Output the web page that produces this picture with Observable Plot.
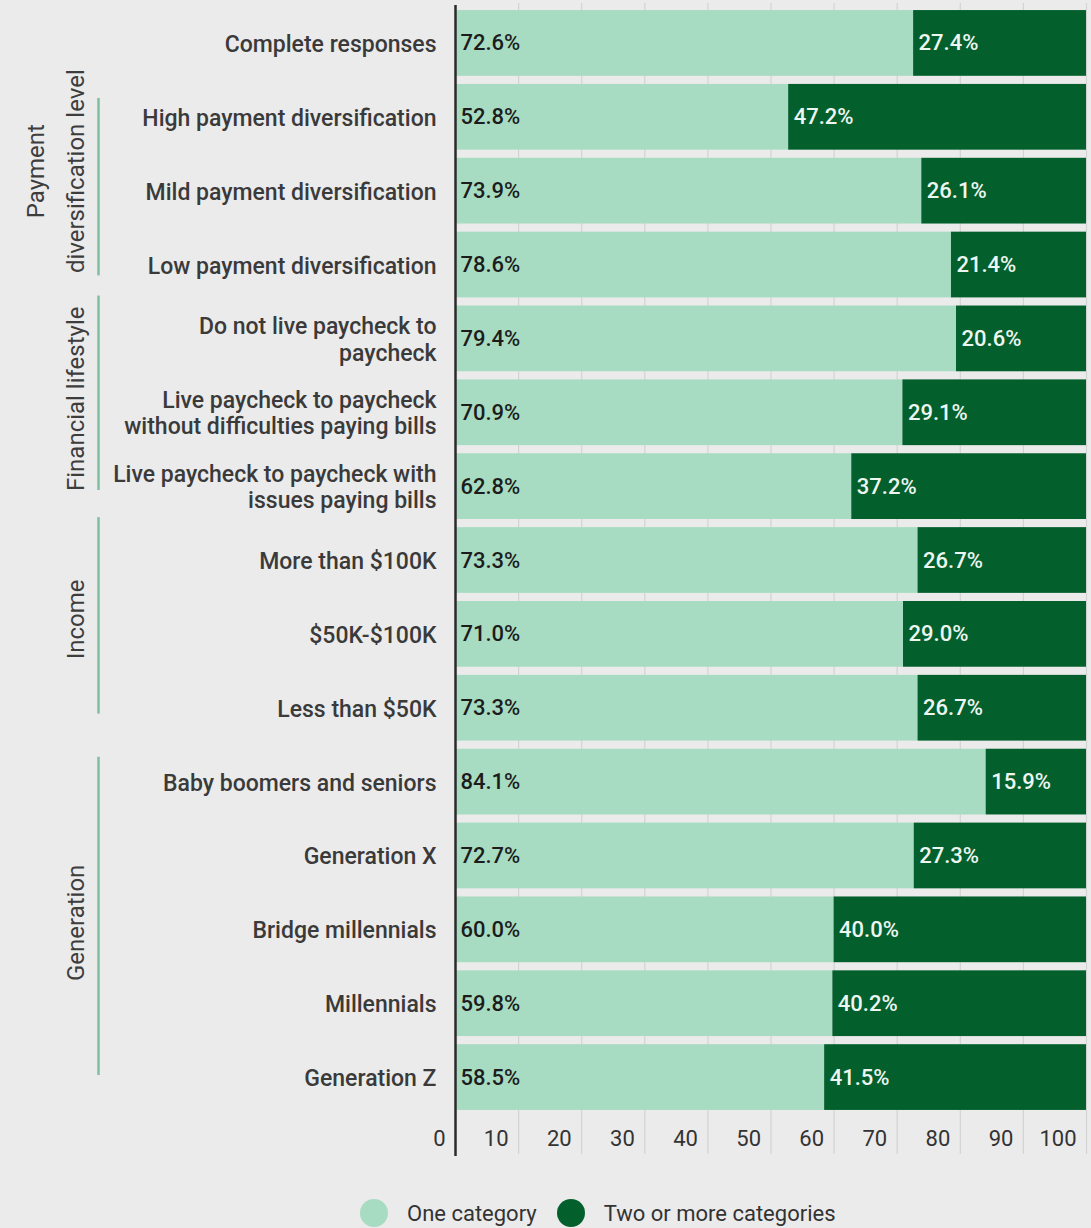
<!DOCTYPE html>
<html>
<head>
<meta charset="utf-8">
<script src="https://cdn.jsdelivr.net/npm/d3@7"></script>
<script src="https://cdn.jsdelivr.net/npm/@observablehq/plot@0.6"></script>
<style>
  html, body { margin: 0; padding: 0; background: #ebebeb; }
  #wrap { position: relative; width: 1091px; height: 1228px; background: #ebebeb; font-family: Roboto, "Noto Sans", sans-serif; }
  #legend { position: absolute; left: 360px; top: 1199px; height: 28px; display: flex; align-items: center; font-size: 22px; color: #333; font-family: Roboto, sans-serif; }
  #legend .sw { width: 28px; height: 28px; border-radius: 50%; display: inline-block; margin-right: 19px; }
  #legend .item { display: flex; align-items: center; margin-right: 20px; }
</style>
</head>
<body>
<div id="wrap"><div id="chart"></div><div id="legend"></div></div>
<script>
// ---- data ----
const categories = [
  "Complete responses",
  "High payment diversification",
  "Mild payment diversification",
  "Low payment diversification",
  "Do not live paycheck to\npaycheck",
  "Live paycheck to paycheck\nwithout difficulties paying bills",
  "Live paycheck to paycheck with\nissues paying bills",
  "More than $100K",
  "$50K-$100K",
  "Less than $50K",
  "Baby boomers and seniors",
  "Generation X",
  "Bridge millennials",
  "Millennials",
  "Generation Z"
];
const oneCategory = [72.6, 52.8, 73.9, 78.6, 79.4, 70.9, 62.8, 73.3, 71.0, 73.3, 84.1, 72.7, 60.0, 59.8, 58.5];
const twoOrMore   = [27.4, 47.2, 26.1, 21.4, 20.6, 29.1, 37.2, 26.7, 29.0, 26.7, 15.9, 27.3, 40.0, 40.2, 41.5];
const seriesNames = ["One category", "Two or more categories"];
const groupNames  = ["Payment\ndiversification level", "Financial lifestyle", "Income", "Generation"];
const groupFirst  = [categories[1], categories[4], categories[7], categories[10]];
const groupMid    = [categories[2], categories[5], categories[8], categories[12]];
const groupLast   = [categories[3], categories[6], categories[9], categories[14]];
const xTicks = [0, 10, 20, 30, 40, 50, 60, 70, 80, 90, 100];

// ---- styles ----
const colors = ["#a8dcc2", "#03602d"];
const textColors = ["#1c1c1c", "#eef6f1"];
const groupLineInsets = [[14, 22], [-10, 29], [-10, 27], [8, 35]];
const groupLabelDy = [-20, -14, -15, -7];

const rows = categories.flatMap((c, i) => [
  {cat: c, series: seriesNames[0], value: oneCategory[i]},
  {cat: c, series: seriesNames[1], value: twoOrMore[i]}
]);

const groupMarks = groupNames.flatMap((g, i) => [
  Plot.ruleX([{x: 0, y1: groupFirst[i], y2: groupLast[i]}], {
    x: "x", y1: "y1", y2: "y2", dx: -357,
    stroke: "#7fbf9f", strokeWidth: 2.5,
    insetTop: groupLineInsets[i][0], insetBottom: groupLineInsets[i][1]
  }),
  Plot.text([{y: groupMid[i], t: g}], {
    y: "y", text: "t", frameAnchor: "left", dx: -372, dy: groupLabelDy[i],
    rotate: -90, textAnchor: "middle", lineAnchor: "bottom", lineHeight: 1.65,
    fontSize: 24, fill: "#3d3d3d", fontWeight: 400
  })
]);

const chart = Plot.plot({
  width: 1091,
  height: 1170,
  marginLeft: 455,
  marginRight: 5,
  marginTop: 6,
  marginBottom: 56,
  style: {background: "transparent", fontFamily: "Roboto, sans-serif", overflow: "visible"},
  x: {domain: [0, 100], axis: null},
  y: {domain: categories, axis: null, paddingInner: 0.11, paddingOuter: 0.055, round: false},
  color: {domain: seriesNames, range: colors},
  marks: [
    Plot.ruleX(xTicks.slice(1), {x: d => d, stroke: "#d3d3d3", strokeWidth: 1.2, insetTop: -3, insetBottom: -40}),
    Plot.barX(rows, Plot.stackX({x: "value", y: "cat", fill: "series", order: seriesNames})),
    Plot.text(rows, Plot.stackX1({
      x: "value", y: "cat", z: "series", order: seriesNames,
      text: d => d.value.toFixed(1) + "%",
      textAnchor: "start", dx: 5,
      fill: d => textColors[seriesNames.indexOf(d.series)],
      fontSize: 22, fontWeight: 500
    })),
    Plot.ruleX([0], {x: d => d, stroke: "#2b2b2b", strokeWidth: 2.5, insetTop: -1, insetBottom: -42}),
    Plot.text(xTicks, {
      x: d => d, text: d => String(d), frameAnchor: "bottom", dy: 31, dx: -10,
      textAnchor: "end", fontSize: 22, fill: "#333"
    }),
    Plot.text(categories, {
      y: d => d, text: d => d, frameAnchor: "left", dx: -19, textAnchor: "end",
      lineHeight: 1.15, fontSize: 23, fontWeight: 500, fill: "#3a3a3a"
    }),
    ...groupMarks
  ]
});
document.getElementById("chart").appendChild(chart);

const legend = document.getElementById("legend");
seriesNames.forEach((s, i) => {
  const item = document.createElement("div");
  item.className = "item";
  const sw = document.createElement("span");
  sw.className = "sw";
  sw.style.background = colors[i];
  const label = document.createElement("span");
  label.textContent = s;
  item.appendChild(sw);
  item.appendChild(label);
  legend.appendChild(item);
});
</script>
</body>
</html>
